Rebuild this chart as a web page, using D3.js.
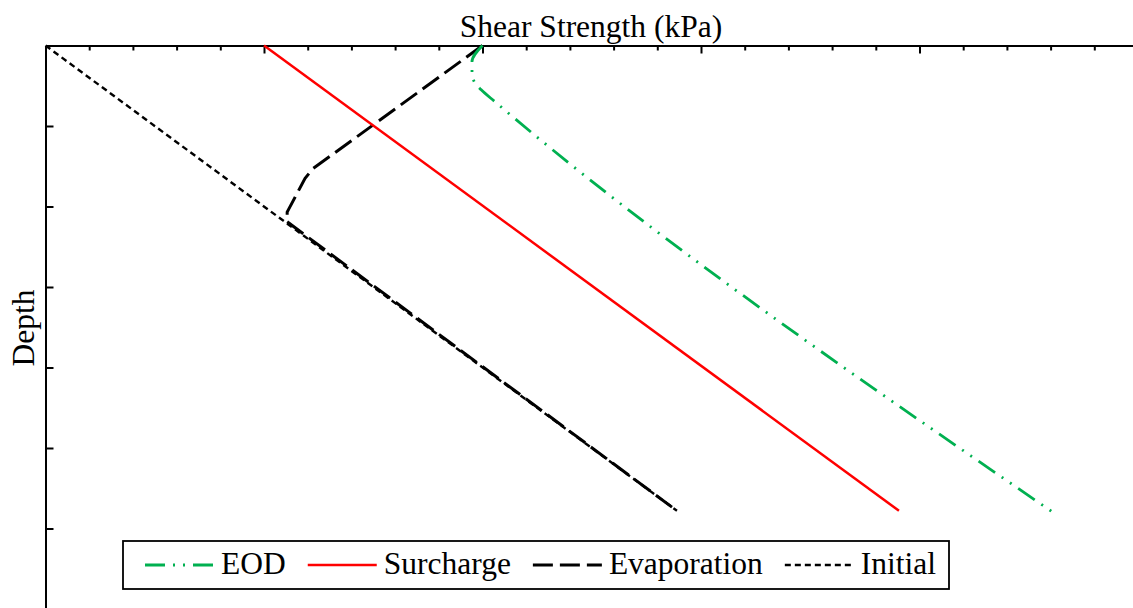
<!DOCTYPE html>
<html>
<head>
<meta charset="utf-8">
<script src="https://cdn.jsdelivr.net/npm/d3@7"></script>
<style>
    body { margin: 0; background: #fff; }
    svg { display: block; }
    .axis path, .axis line { stroke: #000; stroke-width: 2; }
</style>
</head>
<body>
<svg id="chart" width="1133" height="608"></svg>
<script>
// depth (top axis = 0) and shear strength in kPa
let initialDepth = [0, 5.78]
let initialStrength = [0, 144.5]

let surchargeDepth = [0, 5.78]
let surchargeStrength = [50, 195.3]

let evaporationDepth = [0, 1.53, 1.65, 2.07, 2.19, 5.78]
let evaporationStrength = [100, 61.2, 59.4, 55.3, 55.3, 144.5]

let eodDepth = [0, 0.2, 0.33, 0.45, 0.55, 0.7, 5.79]
let eodStrength = [100, 97.6, 97.6, 98.1, 99.7, 102.9, 230.3]

let strengthTicks = d3.range(0, 251, 10)
let depthTicks = [1, 2, 3, 4, 5, 6, 7]

let series = [
    { name: "EOD", depth: eodDepth, strength: eodStrength, color: "#00b050", dash: "20,8,2,8,2,8", width: 2.8 },
    { name: "Surcharge", depth: surchargeDepth, strength: surchargeStrength, color: "#ff0000", dash: null, width: 2.5 },
    { name: "Evaporation", depth: evaporationDepth, strength: evaporationStrength, color: "#000", dash: "20,7", width: 3 },
    { name: "Initial", depth: initialDepth, strength: initialStrength, color: "#000", dash: "6,4", width: 2.4 },
]

let serif = "'Liberation Serif', 'Times New Roman', Times, 'DejaVu Serif', serif"

let svg = d3.select("#chart")
let marginLeft = 45.5
let marginTop = 45.5

let x = d3.scaleLinear().domain([0, 250]).range([0, 1092.5])
let y = d3.scaleLinear().domain([0, 7]).range([0, 563.5])

let plot = svg.append("g").attr("transform", "translate(" + marginLeft + "," + marginTop + ")")

// top axis: minor ticks every 10, longer ones every 50
plot.append("g")
    .attr("class", "axis")
    .call(d3.axisTop(x).tickValues(strengthTicks.filter((v) => v % 50 != 0)).tickSize(-5).tickSizeOuter(0).tickFormat(""))
plot.append("g")
    .attr("class", "axis")
    .call(d3.axisTop(x).tickValues(strengthTicks.filter((v) => v % 50 == 0 && v > 0)).tickSize(-8).tickSizeOuter(0).tickFormat(""))
    .select(".domain").remove()

plot.append("g")
    .attr("class", "axis")
    .call(d3.axisLeft(y).tickValues(depthTicks).tickSize(-8).tickSizeOuter(0).tickFormat(""))

// curves, initial drawn first so evaporation sits on top of it
let line = d3.line()
    .x((d) => x(d[0]))
    .y((d) => y(d[1]))

series.slice().reverse().forEach((s) => {
    let pts = s.depth.map((d, i) => [s.strength[i], d])
    plot.append("path")
        .attr("d", line.curve(s.name == "EOD" ? d3.curveMonotoneY : d3.curveLinear)(pts))
        .attr("fill", "none")
        .attr("stroke", s.color)
        .attr("stroke-width", s.width)
        .attr("stroke-dasharray", s.dash)
})

// titles
svg.append("text")
    .attr("x", 591)
    .attr("y", 37)
    .attr("text-anchor", "middle")
    .style("font-family", serif)
    .style("font-size", "31.5px")
    .text("Shear Strength (kPa)")

svg.append("text")
    .attr("transform", "translate(34,328) rotate(-90)")
    .attr("text-anchor", "middle")
    .style("font-family", serif)
    .style("font-size", "31.5px")
    .text("Depth")

// legend
let legend = svg.append("g")
legend.append("rect")
    .attr("x", 123)
    .attr("y", 541)
    .attr("width", 826)
    .attr("height", 48)
    .attr("fill", "#fff")
    .attr("stroke", "#000")
    .attr("stroke-width", 1.8)

let lx = 145
series.forEach((s) => {
    legend.append("line")
        .attr("x1", lx)
        .attr("x2", lx + 69)
        .attr("y1", 565)
        .attr("y2", 565)
        .attr("stroke", s.color)
        .attr("stroke-width", s.width)
        .attr("stroke-dasharray", s.dash)
    let t = legend.append("text")
        .attr("x", lx + 76)
        .attr("y", 574)
        .style("font-family", serif)
        .style("font-size", "31.5px")
        .text(s.name)
    lx += 76 + t.node().getComputedTextLength() + 22
})
</script>
</body>
</html>
